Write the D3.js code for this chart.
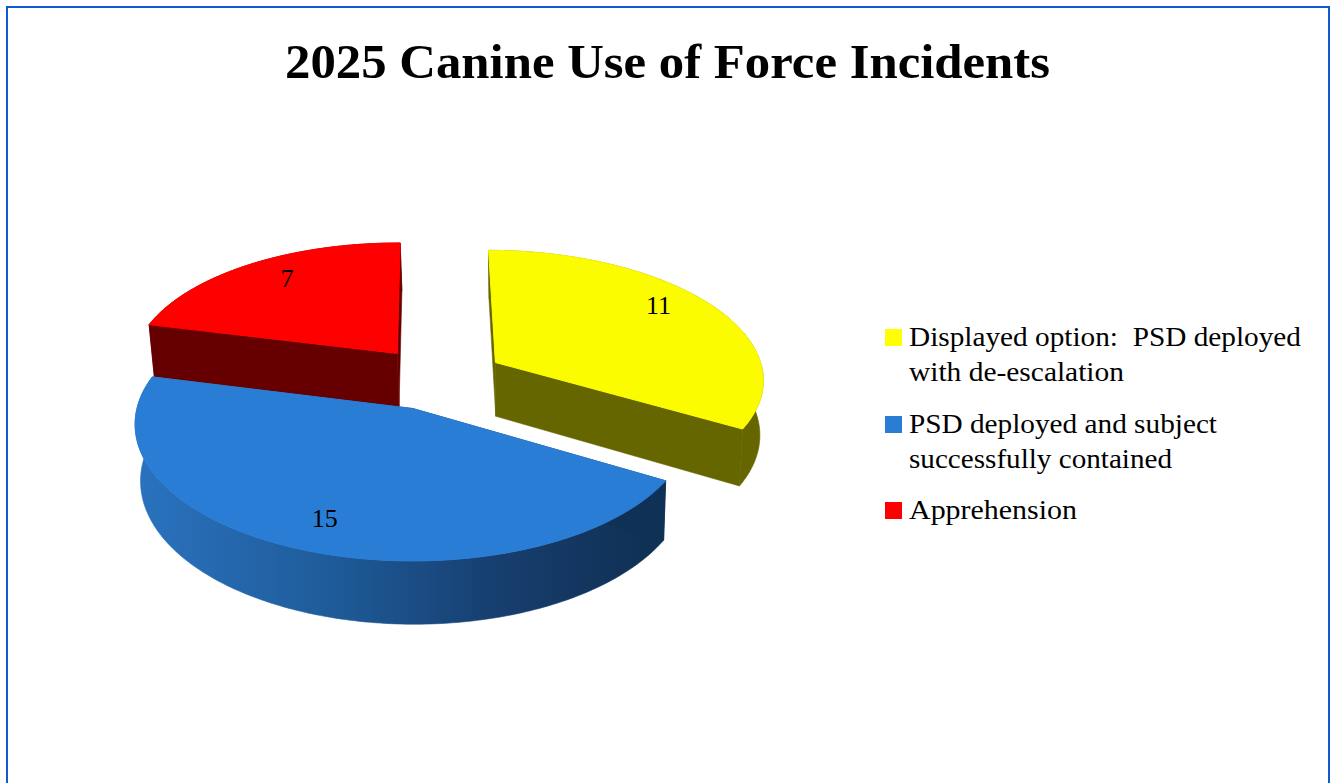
<!DOCTYPE html>
<html><head><meta charset="utf-8">
<style>html,body{margin:0;padding:0;background:#fff;overflow:hidden}svg{display:block}text{font-family:"Liberation Serif",serif;fill:#000}</style>
<script src="https://cdn.jsdelivr.net/npm/d3@7/dist/d3.min.js"></script>
</head><body><svg id="c" width="1333" height="783"></svg>
<script>
const categories = ["Displayed option:  PSD deployed with de-escalation","PSD deployed and subject successfully contained","Apprehension"];
const values = [11,15,7];
const legendLines = [["Displayed option:  PSD deployed","with de-escalation"],["PSD deployed and subject","successfully contained"],["Apprehension"]];
const legendWidths = [[392,215],[308,263],[168]];
const colors = ["#FCFC00","#2A7DD5","#FF0000"];
const legendColors = ["#FFFF00","#2A7DD5","#FF0000"];
const sideColors = ["#666600","url(#blueSide)","#660000"];
const labelAngles = [53.6,201.4,325.4];
const labelRadii = [0.827,0.8,0.8];

const svg = d3.select("#c");
const rad = d=>d*Math.PI/180;
const P = {ox:414,oy:409,R:276,S:135,k:0.115,H:56,shrink:0.014,shift:1.5,cu:0.09,cv:0.235,e:0.25};
const project = (u,v,z)=>{const w=1+P.k*v;return [P.ox+P.shift*z+P.R*u/w*(1-P.shrink*z), P.oy-P.S*v/w+P.H*z/w];};

const defs = svg.append("defs");
const g = defs.append("linearGradient").attr("id","blueSide").attr("gradientUnits","userSpaceOnUse")
  .attr("x1",140).attr("x2",640).attr("y1",0).attr("y2",0);
[[0,"#2A72BE"],[0.4,"#1E5A98"],[0.7,"#173F70"],[1,"#103156"]].forEach(s=>g.append("stop").attr("offset",s[0]).attr("stop-color",s[1]));

svg.append("rect").attr("x",7).attr("y",7).attr("width",1322).attr("height",800).attr("fill","#fff").attr("stroke","#1259CC").attr("stroke-width",2);

svg.append("text").attr("x",285).attr("y",78).attr("font-size",49).attr("font-weight","bold")
  .attr("textLength",765).attr("lengthAdjust","spacingAndGlyphs").text("2025 Canine Use of Force Incidents");

const pie = d3.pie().sort(null).startAngle(rad(0.3)).endAngle(rad(360.3));
const arcs = pie(values);
const line = d3.line();
const chart = svg.append("g");

const geom = arcs.map((a,i)=>{
  const mid=(a.startAngle+a.endAngle)/2;
  const c=[P.cu+P.e*Math.sin(mid),P.cv+P.e*Math.cos(mid)];
  const n=Math.max(8,Math.round((a.endAngle-a.startAngle)*60));
  const th=d3.range(n+1).map(j=>a.startAngle+(a.endAngle-a.startAngle)*j/n);
  const rim=z=>th.map(t=>project(c[0]+Math.sin(t),c[1]+Math.cos(t),z));
  return {c,rim,a,i};
});
const order=[2,0,1];
order.forEach(i=>{
  const s=geom[i], G=chart.append("g");
  const apex=z=>project(s.c[0],s.c[1],z);
  const top=s.rim(0), bot=s.rim(1);
  const sc=sideColors[i];
  G.append("path").attr("d",line(top.concat(bot.slice().reverse()))+"Z").attr("fill",sc).attr("stroke",sc).attr("stroke-width",0.6);
  [0,top.length-1].forEach(j=>{
    const fc=i===1?"#103156":sc;
    G.append("path").attr("d",line([apex(0),top[j],bot[j],apex(1)])+"Z").attr("fill",fc).attr("stroke",fc).attr("stroke-width",0.6);
  });
  G.append("path").attr("d",line([apex(0)].concat(top))+"Z").attr("fill",colors[i]).attr("stroke",colors[i]).attr("stroke-width",1);
});

arcs.forEach((a,i)=>{
  const s=geom[i], t=rad(labelAngles[i]), r=labelRadii[i];
  const p=project(s.c[0]+r*Math.sin(t),s.c[1]+r*Math.cos(t),0);
  svg.append("text").attr("x",p[0]).attr("y",p[1]+9).attr("text-anchor","middle").attr("font-size",26).text(values[i]);
});

const lh=35, groupTops=[346,433,519];
legendLines.forEach((lines,i)=>{
  svg.append("rect").attr("x",885).attr("y",groupTops[i]-17).attr("width",17).attr("height",17).attr("fill",legendColors[i]);
  lines.forEach((l,j)=>{
    svg.append("text").attr("x",909).attr("y",groupTops[i]+j*lh).attr("font-size",27)
      .attr("textLength",legendWidths[i][j]).attr("lengthAdjust","spacingAndGlyphs").style("white-space","pre").text(l);
  });
});
</script></body></html>
